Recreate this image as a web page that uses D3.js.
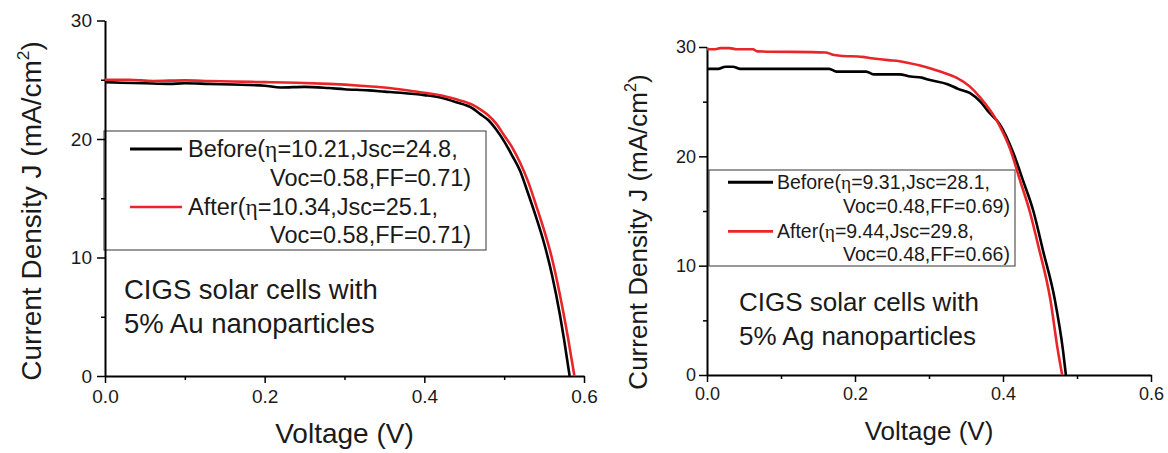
<!DOCTYPE html>
<html lang="en">
<head>
<meta charset="UTF-8">
<title>CIGS J-V curves</title>
<script src="https://cdn.jsdelivr.net/npm/d3@7"></script>
<style>
  body { margin: 0; background: #fff; }
  svg { display: block; }
</style>
</head>
<body>
<div id="chart"></div>
<script>
// values (V in volts, J in mA/cm2)
var auVoltBefore = [0, 0.02, 0.05, 0.08, 0.10, 0.13, 0.16, 0.20, 0.22, 0.25, 0.28, 0.30, 0.33, 0.35, 0.37, 0.40, 0.42, 0.44, 0.46, 0.47, 0.48, 0.49, 0.50, 0.51, 0.52, 0.53, 0.54, 0.55, 0.56, 0.57, 0.575, 0.582];
var auCurrBefore = [24.8, 24.75, 24.7, 24.65, 24.7, 24.65, 24.6, 24.5, 24.35, 24.4, 24.3, 24.2, 24.1, 24.0, 23.9, 23.7, 23.5, 23.1, 22.6, 22.1, 21.6, 20.8, 19.8, 18.6, 17.3, 15.4, 13.4, 11.2, 8.5, 5.1, 3.1, 0];
var auVoltAfter = [0, 0.03, 0.06, 0.10, 0.13, 0.16, 0.20, 0.24, 0.28, 0.32, 0.35, 0.38, 0.40, 0.42, 0.44, 0.46, 0.47, 0.48, 0.49, 0.50, 0.51, 0.52, 0.53, 0.54, 0.55, 0.56, 0.57, 0.58, 0.588];
var auCurrAfter = [25.0, 25.0, 24.9, 24.95, 24.9, 24.85, 24.8, 24.75, 24.65, 24.5, 24.35, 24.1, 23.9, 23.7, 23.35, 22.9, 22.5, 22.0, 21.3, 20.3, 19.3, 18.0, 16.4, 14.4, 12.3, 9.9, 6.8, 3.2, 0];

var agVoltBefore = [0, 0.015, 0.025, 0.035, 0.045, 0.10, 0.165, 0.175, 0.215, 0.225, 0.26, 0.275, 0.29, 0.30, 0.325, 0.34, 0.355, 0.37, 0.38, 0.396, 0.414, 0.427, 0.441, 0.454, 0.47, 0.481, 0.485];
var agCurrBefore = [28.0, 28.0, 28.2, 28.2, 28.0, 28.0, 28.0, 27.75, 27.75, 27.5, 27.5, 27.3, 27.2, 27.0, 26.6, 26.15, 25.8, 24.95, 24.1, 22.9, 20.3, 17.8, 15.0, 11.4, 6.9, 2.3, 0];
var agVoltAfter = [0, 0.01, 0.018, 0.03, 0.04, 0.062, 0.068, 0.16, 0.17, 0.18, 0.21, 0.22, 0.245, 0.26, 0.288, 0.315, 0.337, 0.355, 0.369, 0.393, 0.41, 0.423, 0.436, 0.447, 0.464, 0.474, 0.48];
var agCurrAfter = [29.8, 29.8, 29.9, 29.9, 29.8, 29.8, 29.6, 29.5, 29.3, 29.2, 29.1, 29.0, 28.8, 28.7, 28.3, 27.75, 27.2, 26.4, 25.4, 23.1, 20.6, 17.8, 15.0, 12.0, 6.9, 2.3, 0];

var xTicks = [0, 0.2, 0.4, 0.6], xMinor = [0.1, 0.3, 0.5];
var yTicks = [0, 10, 20, 30], yMinor = [5, 15, 25];

// legend lines: [prefix, after-eta part, second line]
var auLegend = [["Before(", "=10.21,Jsc=24.8,", "Voc=0.58,FF=0.71)"],
                ["After(", "=10.34,Jsc=25.1,", "Voc=0.58,FF=0.71)"]];
var agLegend = [["Before(", "=9.31,Jsc=28.1,", "Voc=0.48,FF=0.69)"],
                ["After(", "=9.44,Jsc=29.8,", "Voc=0.48,FF=0.66)"]];
var auNote = ["CIGS solar cells with", "5% Au nanoparticles"];
var agNote = ["CIGS solar cells with", "5% Ag nanoparticles"];

var font = "'Liberation Sans', Arial, sans-serif";

var svg = d3.select("#chart").append("svg")
    .attr("width", 1168)
    .attr("height", 453)
    .style("font-family", font);

function zip(a, b) { return a.map(function(v, i) { return [v, b[i]]; }); }

function drawPanel(p) {
    var g = svg.append("g");
    var x = d3.scaleLinear().domain([0, 0.6]).range([p.left, p.right]);
    var y = d3.scaleLinear().domain([0, 30]).range([p.bottom, p.top]);

    // legend box first, axes go over its left edge
    g.append("rect")
        .attr("x", p.box[0]).attr("y", p.box[1])
        .attr("width", p.box[2] - p.box[0]).attr("height", p.box[3] - p.box[1])
        .attr("fill", "#fff").attr("stroke", "#555").attr("stroke-width", 1.2);

    // minor ticks
    g.append("g").attr("transform", "translate(0," + p.bottom + ")")
        .call(d3.axisBottom(x).tickValues(xMinor).tickSize(4).tickFormat(""))
        .call(function(s) { s.select(".domain").remove(); s.selectAll("line").attr("stroke-width", 1.5); });
    g.append("g").attr("transform", "translate(" + p.left + ",0)")
        .call(d3.axisLeft(y).tickValues(yMinor).tickSize(4).tickFormat(""))
        .call(function(s) { s.select(".domain").remove(); s.selectAll("line").attr("stroke-width", 1.5); });

    // main axes
    var xa = g.append("g").attr("transform", "translate(0," + p.bottom + ")")
        .call(d3.axisBottom(x).tickValues(xTicks).tickSize(7).tickSizeOuter(0)
            .tickPadding(p.xPad).tickFormat(d3.format(".1f")));
    var ya = g.append("g").attr("transform", "translate(" + p.left + ",0)")
        .call(d3.axisLeft(y).tickValues(yTicks).tickSize(8).tickSizeOuter(0)
            .tickPadding(p.yPad).tickFormat(d3.format("d")));
    [xa, ya].forEach(function(a) {
        a.attr("font-family", font).attr("font-size", p.tickFont);
        a.select(".domain").attr("stroke-width", 2);
        a.selectAll(".tick line").attr("stroke-width", 1.5);
        a.selectAll(".tick text").attr("fill", "#1a1a1a");
    });

    // axis titles
    g.append("text")
        .attr("x", (p.left + p.right) / 2).attr("y", p.xTitleY)
        .attr("text-anchor", "middle").attr("font-size", p.titleFont).attr("fill", "#1a1a1a")
        .text("Voltage (V)");
    var yt = g.append("text")
        .attr("transform", "translate(" + p.yTitle[0] + "," + p.yTitle[1] + ") rotate(-90)")
        .attr("text-anchor", "middle").attr("font-size", p.titleFont).attr("fill", "#1a1a1a");
    yt.append("tspan").text("Current Density J (mA/cm");
    yt.append("tspan").attr("font-size", p.titleFont * 0.62).attr("dy", -p.titleFont * 0.42).text("2");
    yt.append("tspan").attr("dy", p.titleFont * 0.42).text(")");

    // legend entries
    var colors = ["#000", "#e8262a"];
    var widths = [3, 2.6];
    p.legend.forEach(function(entry, i) {
        var ly = p.legRows[i * 2];
        g.append("line")
            .attr("x1", p.legLine[0]).attr("x2", p.legLine[1])
            .attr("y1", ly - p.legFont * 0.34).attr("y2", ly - p.legFont * 0.34)
            .attr("stroke", colors[i]).attr("stroke-width", widths[i]);
        var t1 = g.append("text").attr("x", p.legText[0]).attr("y", ly)
            .attr("font-size", p.legFont).attr("fill", "#1a1a1a");
        t1.append("tspan").text(entry[0]);
        t1.append("tspan").attr("font-family", "'Liberation Serif', serif").text("\u03b7");
        t1.append("tspan").text(entry[1]);
        g.append("text").attr("x", p.legText[1]).attr("y", p.legRows[i * 2 + 1])
            .attr("font-size", p.legFont).attr("fill", "#1a1a1a").text(entry[2]);
    });

    // note
    p.note.forEach(function(s, i) {
        g.append("text").attr("x", p.noteXY[0]).attr("y", p.noteXY[1] + i * p.noteGap)
            .attr("font-size", p.noteFont).attr("fill", "#1a1a1a").text(s);
    });

    // curves
    var line = d3.line().curve(d3.curveMonotoneX)
        .x(function(d) { return x(d[0]); }).y(function(d) { return y(d[1]); });
    p.series.forEach(function(s, i) {
        g.append("path").datum(s)
            .attr("d", line).attr("fill", "none")
            .attr("stroke", colors[i]).attr("stroke-width", 2.6)
            .attr("stroke-linejoin", "round");
    });
}

drawPanel({
    left: 105, right: 584, bottom: 376, top: 20.5,
    tickFont: 19, xPad: 7, yPad: 5, titleFont: 28,
    xTitleY: 443, yTitle: [41, 211],
    box: [104, 131, 486, 250],
    legend: auLegend, legFont: 23.5,
    legRows: [157, 186, 215, 243], legLine: [130, 182], legText: [188, 270],
    note: auNote, noteXY: [124, 299], noteGap: 34, noteFont: 27.5,
    series: [zip(auVoltBefore, auCurrBefore), zip(auVoltAfter, auCurrAfter)]
});

drawPanel({
    left: 707, right: 1151, bottom: 375, top: 47,
    tickFont: 18, xPad: 5, yPad: 3, titleFont: 26,
    xTitleY: 440, yTitle: [647, 232],
    box: [709, 170, 1015, 266],
    legend: agLegend, legFont: 19.5,
    legRows: [189, 213, 238, 261], legLine: [728, 773], legText: [777, 843],
    note: agNote, noteXY: [739, 311], noteGap: 34, noteFont: 26,
    series: [zip(agVoltBefore, agCurrBefore), zip(agVoltAfter, agCurrAfter)]
});
</script>
</body>
</html>
